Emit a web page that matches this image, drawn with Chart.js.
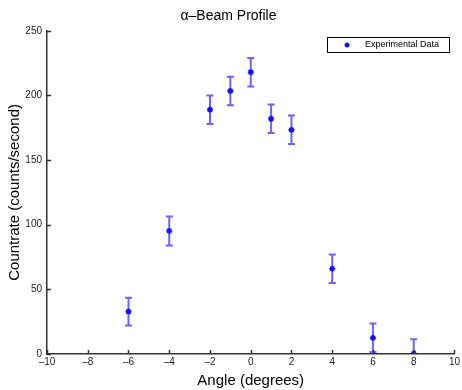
<!DOCTYPE html>
<html>
<head>
<meta charset="utf-8">
<script src="https://cdn.jsdelivr.net/npm/chart.js@4/dist/chart.umd.min.js"></script>
<style>
  body { margin: 0; background: #fff; }
  #wrap { position: relative; width: 462px; height: 390px; }
</style>
</head>
<body>
<div id="wrap"><canvas id="beamChart" width="462" height="390"></canvas></div>
<script>
// angle (degrees) and measured countrate with error
const angles = [-6, -4, -2, -1, 0, 1, 2, 4, 6, 8];
const countrate = [32.8, 95.2, 189, 203.5, 218, 182, 173.4, 66, 12.5, 0.3];
const errors = [10.8, 11.2, 11, 11, 11, 11, 11, 11, 11, 11.2];
const xTicks = [-10, -8, -6, -4, -2, 0, 2, 4, 6, 8, 10];
const yTicks = [0, 50, 100, 150, 200, 250];

const blue = '#1010ff';
const axisColor = '#333333';
const fontFamily = '"Liberation Sans", Arial, sans-serif';

// minus sign like matlab
const fmt = v => String(v).replace('-', '\u2013');

// error bars, inward ticks and the legend box
const extras = {
    id: 'extras',
    beforeDatasetsDraw(chart) {
        const ctx = chart.ctx;
        const xs = chart.scales.x, ys = chart.scales.y;
        const area = chart.chartArea;
        ctx.save();
        ctx.beginPath();
        ctx.rect(area.left, area.top, area.right - area.left, area.bottom - area.top);
        ctx.clip();
        ctx.strokeStyle = 'rgba(20,20,255,0.65)';
        ctx.lineWidth = 2;
        angles.forEach((a, i) => {
            const px = xs.getPixelForValue(a);
            const top = ys.getPixelForValue(countrate[i] + errors[i]);
            const bot = ys.getPixelForValue(countrate[i] - errors[i]);
            ctx.beginPath();
            ctx.moveTo(px, top); ctx.lineTo(px, bot);
            ctx.moveTo(px - 3.5, top); ctx.lineTo(px + 3.5, top);
            ctx.moveTo(px - 3.5, bot); ctx.lineTo(px + 3.5, bot);
            ctx.stroke();
        });
        ctx.restore();
    },
    afterDraw(chart) {
        const ctx = chart.ctx;
        const xs = chart.scales.x, ys = chart.scales.y;
        const area = chart.chartArea;
        ctx.save();
        ctx.strokeStyle = axisColor;
        ctx.lineWidth = 1.5;
        ctx.beginPath();
        xTicks.forEach(t => {
            const px = Math.round(xs.getPixelForValue(t)) + 0.5;
            ctx.moveTo(px, area.bottom); ctx.lineTo(px, area.bottom - 4);
        });
        yTicks.forEach(t => {
            const py = Math.round(ys.getPixelForValue(t)) + 0.5;
            ctx.moveTo(area.left, py); ctx.lineTo(area.left + 4, py);
        });
        ctx.stroke();

        // legend
        const lx = 327, ly = 37, lw = 122, lh = 15;
        ctx.fillStyle = '#fff';
        ctx.fillRect(lx, ly, lw, lh);
        ctx.strokeStyle = '#000';
        ctx.lineWidth = 1;
        ctx.strokeRect(lx + 0.5, ly + 0.5, lw, lh);
        ctx.strokeStyle = blue;
        ctx.lineWidth = 1.5;
        Chart.helpers.drawPoint(ctx, { pointStyle: 'star', radius: 2.5, rotation: 0, borderWidth: 1.5 }, 347, ly + 8);
        ctx.fillStyle = '#000';
        ctx.font = '9px ' + fontFamily;
        ctx.textBaseline = 'middle';
        ctx.fillText('Experimental Data', 365, ly + 8);
        ctx.restore();
    }
};

const ctx = document.getElementById('beamChart').getContext('2d');
const beamChart = new Chart(ctx, {
    type: 'scatter',
    data: {
        datasets: [{
            label: 'Experimental Data',
            data: angles.map((a, i) => ({ x: a, y: countrate[i] })),
            pointStyle: 'star',
            pointRadius: 3,
            borderWidth: 1.6,
            borderColor: blue,
            backgroundColor: blue
        }]
    },
    options: {
        responsive: false,
        animation: false,
        layout: { padding: { left: 0, right: 5, top: 0, bottom: 0 } },
        scales: {
            x: {
                type: 'linear',
                min: -10, max: 10,
                afterBuildTicks: s => { s.ticks = xTicks.map(v => ({ value: v })); },
                afterFit: s => { s.height = 36; },
                grid: { display: false, drawTicks: false },
                border: { display: true, color: axisColor, width: 1.5 },
                ticks: {
                    callback: v => fmt(v),
                    color: '#222', padding: 2, maxRotation: 0,
                    font: { family: fontFamily, size: 10 }
                },
                title: {
                    display: true, text: 'Angle (degrees)', color: '#000',
                    font: { family: fontFamily, size: 15 }, padding: { top: 1, bottom: 0 }
                }
            },
            y: {
                min: 0, max: 250,
                afterBuildTicks: s => { s.ticks = yTicks.map(v => ({ value: v })); },
                afterFit: s => { s.width = 47; },
                grid: { display: false, drawTicks: false },
                border: { display: true, color: axisColor, width: 1.5 },
                ticks: {
                    color: '#222', padding: 5,
                    font: { family: fontFamily, size: 10 }
                },
                title: {
                    display: true, text: 'Countrate (counts/second)', color: '#000',
                    font: { family: fontFamily, size: 15 }, padding: { top: 6, bottom: 0 }
                }
            }
        },
        plugins: {
            legend: { display: false },
            tooltip: { enabled: false },
            title: {
                display: true, text: '\u03b1\u2013Beam Profile', color: '#000',
                font: { family: fontFamily, size: 14, weight: 'normal' },
                padding: { top: 8, bottom: 6 }
            }
        }
    },
    plugins: [extras]
});
</script>
</body>
</html>
